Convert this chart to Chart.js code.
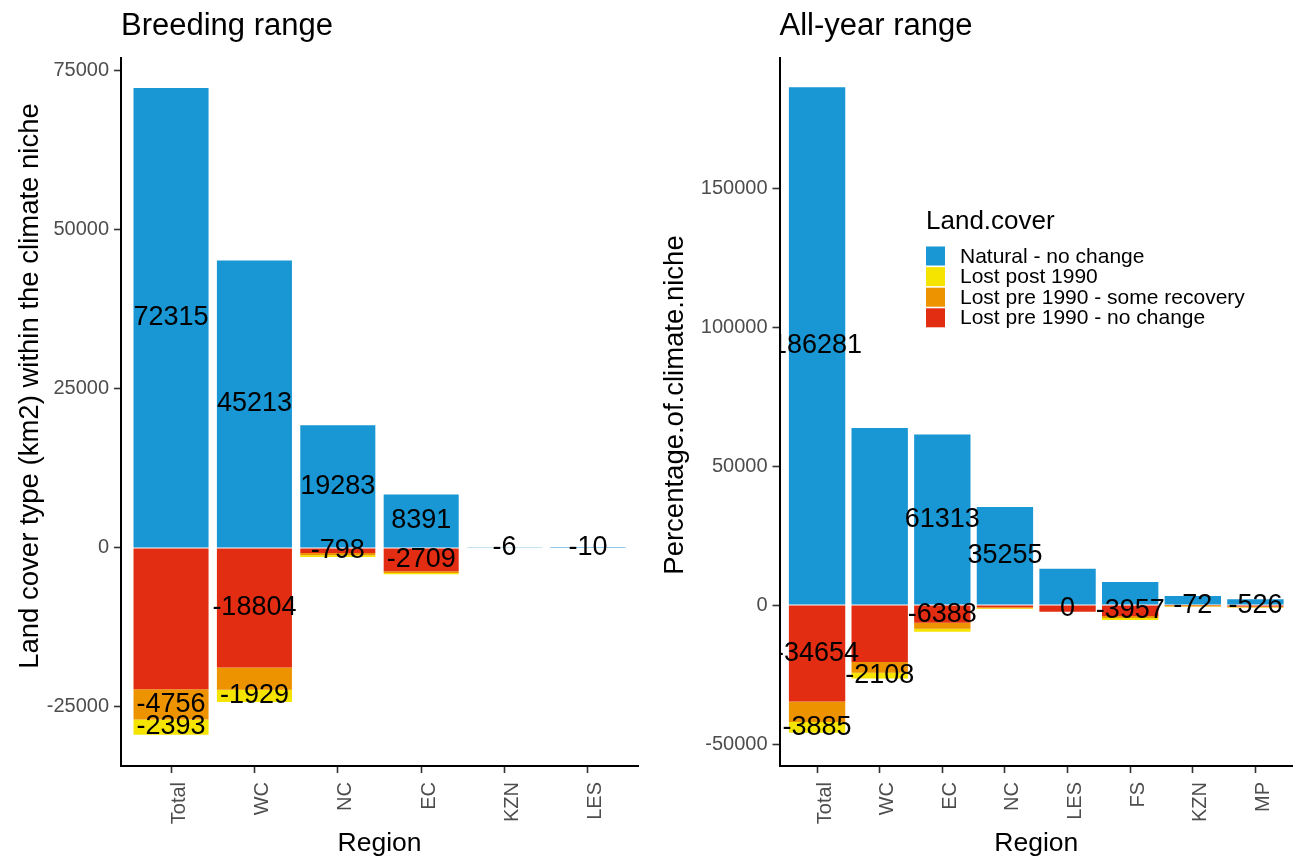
<!DOCTYPE html>
<html>
<head>
<meta charset="utf-8">
<script src="https://cdn.jsdelivr.net/npm/chart.js@4.4.0/dist/chart.umd.min.js"></script>
<style>
  html, body { margin: 0; padding: 0; background: #fff; }
  #wrap { position: relative; width: 1293px; height: 858px; }
  canvas { position: absolute; top: 0; }
  #c1 { left: 0; }
  #c2 { left: 647px; }
</style>
</head>
<body>
<div id="wrap">
  <canvas id="c1" width="647" height="858"></canvas>
  <canvas id="c2" width="646" height="858"></canvas>
</div>
<script>
// breeding range, km2 per region
const breedRegions = ['Total', 'WC', 'NC', 'EC', 'KZN', 'LES'];
const breedNatural = [72315, 45213, 19283, 8391, 20, 150];
const breedNoChange = [-22200, -18804, -798, -3660, 0, 0];
const breedRecovery = [-4756, -3500, -360, -260, 0, 0];
const breedPost = [-2393, -1929, -260, -210, 0, 0];
// text printed on the bars (null = no label)
const breedNaturalLbl = ['72315', '45213', '19283', '8391', '-6', '-10'];
const breedNoChangeLbl = [null, '-18804', '-798', '-2709', null, null];
const breedRecoveryLbl = ['-4756', null, null, null, null, null];
const breedPostLbl = ['-2393', '-1929', null, null, null, null];
const breedTicks = [-25000, 0, 25000, 50000, 75000];

// all-year range
const yearRegions = ['Total', 'WC', 'EC', 'NC', 'LES', 'FS', 'KZN', 'MP'];
const yearNatural = [186281, 63700, 61313, 35255, 13070, 8270, 3240, 2050];
const yearNoChange = [-34654, -20500, -6388, -830, -2380, -3957, -72, -526];
const yearRecovery = [-7400, -3840, -2160, -350, 0, -720, -450, -300];
const yearPost = [-3885, -2108, -1080, -250, 0, -720, -100, -100];
const yearNaturalLbl = ['186281', null, '61313', '35255', null, null, null, null];
const yearNoChangeLbl = ['-34654', null, '-6388', null, '0', '-3957', '-72', '-526'];
const yearRecoveryLbl = [null, null, null, null, null, null, null, null];
const yearPostLbl = ['-3885', '-2108', null, null, null, null, null, null];
const yearTicks = [-50000, 0, 50000, 100000, 150000];

const FONT = '"Liberation Sans", Arial, Helvetica, sans-serif';
const colNatural = '#1996d4', colPost = '#f5e400', colRecovery = '#ee9300', colNoChange = '#e32d12';

function buildChart(id, o) {
  const n = o.regions.length;
  const pts = vals => vals.map((v, i) => ({x: i, y: v}));
  const sets = [
    {label: 'Natural - no change', data: pts(o.natural), backgroundColor: colNatural, lbl: o.naturalLbl},
    {label: 'Lost pre 1990 - no change', data: pts(o.noChange), backgroundColor: colNoChange, lbl: o.noChangeLbl},
    {label: 'Lost pre 1990 - some recovery', data: pts(o.recovery), backgroundColor: colRecovery, lbl: o.recoveryLbl},
    {label: 'Lost post 1990', data: pts(o.post), backgroundColor: colPost, lbl: o.postLbl}
  ];
  sets.forEach(s => { s.categoryPercentage = 1; s.barPercentage = 0.9; s.borderWidth = 0; });

  const axisGrid = () => ({display: true, offset: false, drawOnChartArea: false, drawTicks: true,
                           tickLength: 7, tickColor: '#333', tickWidth: 1.6});
  const axisBorder = () => ({display: true, color: '#000', width: 2});

  const decor = {
    id: 'decor',
    afterDatasetsDraw(chart) {
      const ctx = chart.ctx, a = chart.chartArea;
      ctx.save();
      ctx.beginPath();
      ctx.rect(a.left, a.top, a.right - a.left, a.bottom - a.top);
      ctx.clip();
      ctx.font = '27px ' + FONT;
      ctx.fillStyle = '#000';
      ctx.textAlign = 'center';
      ctx.textBaseline = 'middle';
      chart.data.datasets.forEach((ds, di) => {
        const meta = chart.getDatasetMeta(di);
        ds.lbl.forEach((t, i) => {
          if (t == null) return;
          const el = meta.data[i];
          ctx.fillText(t, el.x, (el.y + el.base) / 2);
        });
      });
      ctx.restore();
    },
    afterDraw(chart) {
      const ctx = chart.ctx, a = chart.chartArea;
      ctx.save();
      ctx.fillStyle = '#000';
      ctx.textAlign = 'left';
      ctx.textBaseline = 'alphabetic';
      ctx.font = '31px ' + FONT;
      ctx.fillText(o.title, a.left, 35);
      // y axis title (ggplot centres it a little off the panel middle here)
      ctx.save();
      ctx.translate(o.yTitleX, o.yTitleY);
      ctx.rotate(-Math.PI / 2);
      ctx.font = '27.5px ' + FONT;
      ctx.textAlign = 'center';
      ctx.textBaseline = 'middle';
      ctx.fillText(o.yTitle, 0, 0);
      ctx.restore();
      if (o.legend) {
        const ds = chart.data.datasets;
        const order = [ds[0], ds[3], ds[2], ds[1]];
        ctx.font = '26px ' + FONT;
        ctx.fillText('Land.cover', 279, 229);
        ctx.font = '21px ' + FONT;
        order.forEach((d, k) => {
          const top = 246.5 + k * 20.6;
          ctx.fillStyle = d.backgroundColor;
          ctx.fillRect(279, top, 19, 19);
          ctx.fillStyle = '#000';
          ctx.fillText(d.label, 313, top + 16);
        });
      }
      ctx.restore();
    }
  };

  return new Chart(document.getElementById(id), {
    type: 'bar',
    data: {datasets: sets},
    plugins: [decor],
    options: {
      responsive: false,
      animation: false,
      layout: {padding: {top: 58, right: o.padRight, bottom: 0, left: 0}},
      plugins: {legend: {display: false}, tooltip: {enabled: false}},
      scales: {
        x: {
          type: 'linear', stacked: true, min: -0.6, max: n - 0.4, offset: false,
          afterBuildTicks: s => { s.ticks = o.regions.map((r, i) => ({value: i})); },
          afterFit: s => { s.height = 92; },
          ticks: {autoSkip: false, minRotation: 90, maxRotation: 90, padding: 9, labelOffset: 8,
                  color: '#4d4d4d', font: {family: FONT, size: 20}, callback: v => o.regions[v]},
          grid: axisGrid(),
          border: axisBorder(),
          title: {display: true, text: 'Region', color: '#000', font: {family: FONT, size: 26.5}, padding: {top: 0, bottom: -2}}
        },
        y: {
          type: 'linear', stacked: true, min: o.yMin, max: o.yMax,
          afterBuildTicks: s => { s.ticks = o.ticks.map(v => ({value: v})); },
          afterFit: s => { s.width = o.axisWidth; },
          ticks: {padding: 5, color: '#4d4d4d', font: {family: FONT, size: 20}, callback: v => String(v)},
          grid: axisGrid(),
          border: axisBorder()
        }
      }
    }
  });
}

buildChart('c1', {
  title: 'Breeding range',
  yTitle: 'Land cover type (km2) within the climate niche', yTitleX: 30, yTitleY: 386,
  regions: breedRegions,
  natural: breedNatural, noChange: breedNoChange, recovery: breedRecovery, post: breedPost,
  naturalLbl: breedNaturalLbl, noChangeLbl: breedNoChangeLbl, recoveryLbl: breedRecoveryLbl, postLbl: breedPostLbl,
  ticks: breedTicks, yMin: -34280, yMax: 77040,
  axisWidth: 121, padRight: 9, legend: false
});

buildChart('c2', {
  title: 'All-year range',
  yTitle: 'Percentage.of.climate.niche', yTitleX: 28, yTitleY: 405,
  regions: yearRegions,
  natural: yearNatural, noChange: yearNoChange, recovery: yearRecovery, post: yearPost,
  naturalLbl: yearNaturalLbl, noChangeLbl: yearNoChangeLbl, recoveryLbl: yearRecoveryLbl, postLbl: yearPostLbl,
  ticks: yearTicks, yMin: -57900, yMax: 196800,
  axisWidth: 132.5, padRight: 0, legend: true
});
</script>
</body>
</html>
